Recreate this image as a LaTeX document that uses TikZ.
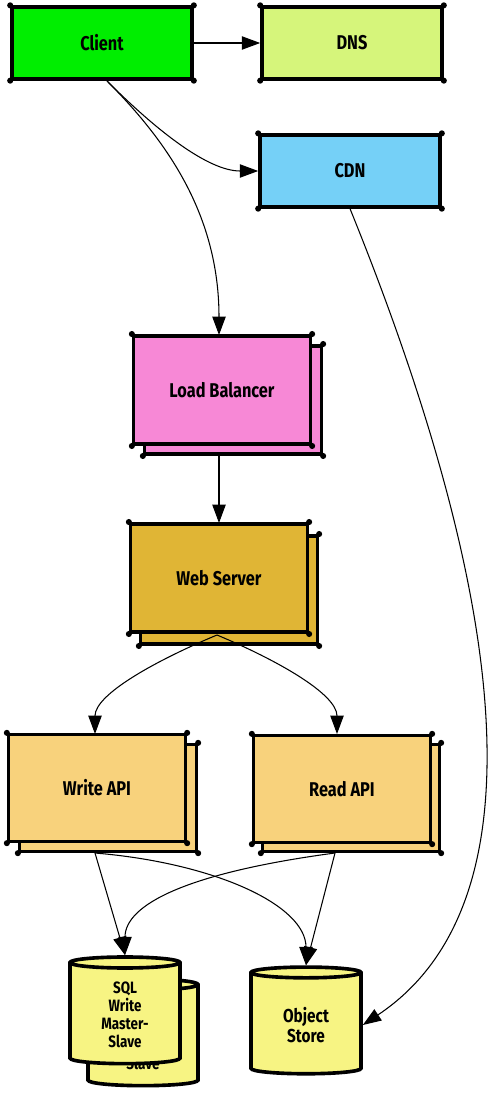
\documentclass[tikz,border=0pt]{standalone}
\usepackage{fontspec}
\setmainfont{Fira Sans}[FakeStretch=0.82]
\usetikzlibrary{arrows.meta,shapes.geometric}

\definecolor{clientgreen}{HTML}{00EE00}
\definecolor{dnsgreen}{HTML}{D6F57B}
\definecolor{cdnblue}{HTML}{75D0F7}
\definecolor{lbpink}{HTML}{F788D6}
\definecolor{webgold}{HTML}{E0B535}
\definecolor{apisand}{HTML}{F8D27C}
\definecolor{dbyellow}{HTML}{F7F483}

\tikzset{
  box/.style={draw, line width=3.1pt, line join=round, minimum width=5.3cm,
    minimum height=3.25cm, font=\bfseries\fontsize{17}{19}\selectfont},
  flat/.style={box, minimum width=5.4cm, minimum height=2.15cm},
  db/.style={cylinder, shape border rotate=90, aspect=0.2, draw, line width=3.1pt,
    fill=dbyellow, minimum width=3.3cm, minimum height=3.2cm, align=center,
    font=\bfseries\fontsize{14}{15.5}\selectfont},
  link/.style={-{Triangle[length=5.5mm,width=4mm]}, line width=0.9pt},
}

\begin{document}
\begin{tikzpicture}[x=0.03cm, y=-0.03cm]
  \useasboundingbox (0,0) rectangle (488,1098);

  % Connector end points
  \coordinate (clientfoot) at (107,81);
  \coordinate (lbtop) at (219,335);
  \coordinate (lbfoot) at (219,456);
  \coordinate (webtop) at (219,523);
  \coordinate (webfoot) at (217,635);
  \coordinate (writetop) at (95,734);
  \coordinate (readtop) at (337,734);
  \coordinate (writefoot) at (95,853);
  \coordinate (readfoot) at (335,853);

  % Stacked copies behind
  \node[box, fill=lbpink] (lbb) at (233,400) {};
  \node[box, fill=webgold] (webb) at (229,590) {};
  \node[box, fill=apisand, minimum height=3.2cm] (writeb) at (108,798) {};
  \node[box, fill=apisand, minimum height=3.2cm] (readb) at (351,798) {};
  \node[db] (sqlb) at (143,1037) {SQL\\Write\\Master-\\Slave};
  \foreach \n in {lbb,webb,writeb,readb}
    \foreach \a in {north east,south west,south east}
      \fill (\n.\a) circle (2.6pt);

  % Front boxes
  \node[flat, fill=clientgreen] (client) at (102,43) {Client};
  \node[flat, fill=dnsgreen] (dns) at (352,43) {DNS};
  \node[flat, fill=cdnblue] (cdn) at (350,171) {CDN};
  \node[box, fill=lbpink] (lb) at (222,390) {Load Balancer};
  \node[box, fill=webgold] (web) at (219,578) {Web Server};
  \node[box, fill=apisand, minimum height=3.2cm] (write) at (97,788) {Write API};
  \node[box, fill=apisand, minimum height=3.2cm] (read) at (342,789) {Read API};
  \node[db] (sql) at (125,1015) {SQL\\Write\\Master-\\Slave};
  \node[db, font=\bfseries\fontsize{16}{17.5}\selectfont] (obj) at (306,1025) {Object\\Store};
  \foreach \n in {client,dns,cdn,lb,web,write,read}
    \foreach \a in {north west,north east,south west,south east}
      \fill (\n.\a) circle (2.6pt);

  % Client requests
  \draw[link] (client) -- (dns);
  \draw[link] (clientfoot) .. controls +(50,50) and +(-50,0) .. (cdn.west);
  \draw[link] (clientfoot) .. controls +(60,60) and +(0,-120) .. (lbtop);
  \draw[link] (cdn.south) .. controls (460,480) and (580,880) .. (obj.east);

  % Load balancer to web tier
  \draw[link] (lbfoot) -- (webtop);
  \draw[link] (webfoot) .. controls +(-60,25) and +(0,-40) .. (writetop);
  \draw[link] (webfoot) .. controls +(60,25) and +(0,-40) .. (readtop);

  % API to storage
  \draw[link] (writefoot) -- (sql.north);
  \draw[link] (writefoot) .. controls +(120,10) and +(0,-60) .. (obj.north);
  \draw[link] (readfoot) .. controls +(-150,20) and +(0,-50) .. (sql.north);
  \draw[link] (readfoot) -- (obj.north);
\end{tikzpicture}
\end{document}
